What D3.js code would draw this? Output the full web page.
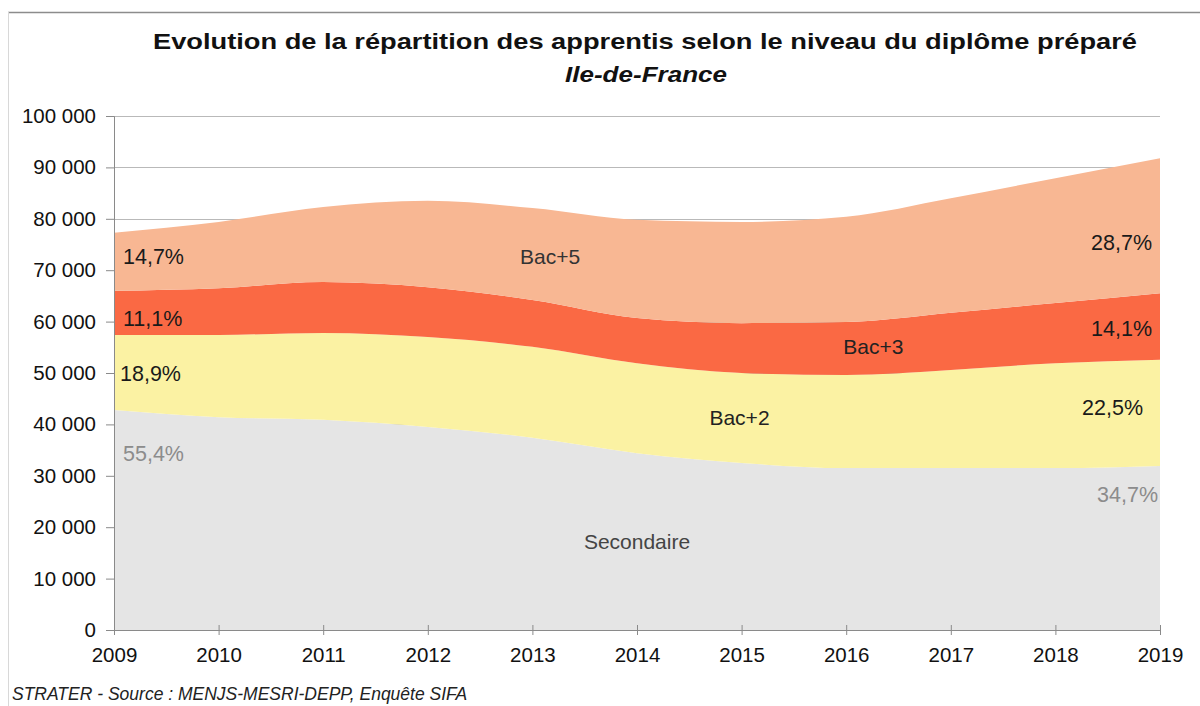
<!DOCTYPE html>
<html>
<head>
<meta charset="utf-8">
<script src="https://cdn.jsdelivr.net/npm/d3@7"></script>
<style>
  body { margin: 0; background: #fff; }
  svg { display: block; font-family: "Liberation Sans", Arial, sans-serif; }
</style>
</head>
<body>
<div id="chart"></div>
<script>
// years on the x axis
const years = [2009, 2010, 2011, 2012, 2013, 2014, 2015, 2016, 2017, 2018, 2019];

// number of apprentices by level
const secondaire = [42800, 41400, 40900, 39500, 37400, 34400, 32500, 31500, 31500, 31500, 31900];
const bac2 = [14600, 16000, 16900, 17500, 17700, 17500, 17500, 18100, 19100, 20400, 20700];
const bac3 = [8600, 9100, 9900, 9700, 9100, 8800, 9700, 10300, 11100, 11700, 12900];
const bac5 = [11300, 12900, 14600, 16800, 17900, 19100, 19700, 20500, 22300, 24300, 26300];

const seriesNames = ["Secondaire", "Bac+2", "Bac+3", "Bac+5"];
const pctStart = ["55,4%", "18,9%", "11,1%", "14,7%"];
const pctEnd = ["34,7%", "22,5%", "14,1%", "28,7%"];
const yTicks = [0, 10000, 20000, 30000, 40000, 50000, 60000, 70000, 80000, 90000, 100000];

const colors = ["#e5e5e5", "#fbf2a3", "#fa6944", "#f8b793"];

// build rows for the stack
const rows = years.map((y, i) => ({
    year: y,
    "Secondaire": secondaire[i],
    "Bac+2": bac2[i],
    "Bac+3": bac3[i],
    "Bac+5": bac5[i]
}));

const width = 1200, height = 706;
const margin = { top: 116, right: 40, bottom: 76, left: 114 };
const innerW = width - margin.left - margin.right;
const innerH = height - margin.top - margin.bottom;

const svg = d3.select("#chart").append("svg")
    .attr("width", width)
    .attr("height", height);

// frame lines (top and left)
svg.append("line").attr("x1", 8).attr("x2", 1200).attr("y1", 12.5).attr("y2", 12.5)
    .attr("stroke", "#8c8c8c").attr("stroke-width", 1.5);
svg.append("line").attr("x1", 8.5).attr("x2", 8.5).attr("y1", 12).attr("y2", 706)
    .attr("stroke", "#d8d8d8").attr("stroke-width", 1);

// title (the source picture is a bit stretched horizontally)
svg.append("text")
    .attr("x", 645).attr("y", 49)
    .attr("text-anchor", "middle")
    .attr("font-size", "22px").attr("font-weight", "bold").attr("fill", "#111")
    .attr("textLength", 984).attr("lengthAdjust", "spacingAndGlyphs")
    .text("Evolution de la répartition des apprentis selon le niveau du diplôme préparé");
svg.append("text")
    .attr("x", 646).attr("y", 82)
    .attr("text-anchor", "middle")
    .attr("font-size", "22px").attr("font-weight", "bold").attr("font-style", "italic").attr("fill", "#111")
    .attr("textLength", 162).attr("lengthAdjust", "spacingAndGlyphs")
    .text("Ile-de-France");

const g = svg.append("g").attr("transform", `translate(${margin.left},${margin.top})`);

const x = d3.scaleLinear().domain([2009, 2019]).range([0, innerW]);
const y = d3.scaleLinear().domain([0, 100000]).range([innerH, 0]);

// gridlines (behind the areas)
g.append("g").selectAll("line").data(yTicks.filter(d => d > 0)).join("line")
    .attr("x1", 0).attr("x2", innerW)
    .attr("y1", d => Math.round(y(d)) + 0.5).attr("y2", d => Math.round(y(d)) + 0.5)
    .attr("stroke", "#b9b9b9").attr("stroke-width", 1);

// stacked areas
const stack = d3.stack().keys(seriesNames);
const stacked = stack(rows);

const area = d3.area()
    .x(d => x(d.data.year))
    .y0(d => y(d[0]))
    .y1(d => y(d[1]))
    .curve(d3.curveMonotoneX);

g.selectAll(".layer").data(stacked).join("path")
    .attr("class", "layer")
    .attr("d", area)
    .attr("fill", (d, i) => colors[i]);

// y axis
const yAxis = g.append("g")
    .call(d3.axisLeft(y).tickValues(yTicks).tickSize(8).tickPadding(10)
        .tickFormat(d => d3.format(",")(d).replace(/,/g, " ")));
yAxis.select(".domain").attr("stroke", "#8a8a8a");
yAxis.selectAll(".tick line").attr("stroke", "#8a8a8a");
yAxis.selectAll(".tick text").attr("font-size", "20.5px").attr("fill", "#111")
    .attr("font-family", "Liberation Sans, Arial, sans-serif");

// x axis
const xAxis = g.append("g")
    .attr("transform", `translate(0,${innerH})`)
    .call(d3.axisBottom(x).tickValues(years).tickSize(5).tickPadding(12).tickFormat(d3.format("d")));
xAxis.select(".domain").attr("stroke", "#8a8a8a");
xAxis.selectAll(".tick line").attr("stroke", "#8a8a8a").attr("y1", -5);
xAxis.selectAll(".tick text").attr("font-size", "20.5px").attr("fill", "#111")
    .attr("font-family", "Liberation Sans, Arial, sans-serif");

// series name labels, placed at a year inside their band
const nameAt = [2014.0, 2014.98, 2016.26, 2013.17];
const nameColor = ["#444", "#222", "#222", "#333"];
stacked.forEach((s, i) => {
    const yr = nameAt[i];
    const lo = d3.interpolate(s[Math.floor(yr - 2009)][0], s[Math.ceil(yr - 2009)][0])(yr % 1);
    const hi = d3.interpolate(s[Math.floor(yr - 2009)][1], s[Math.ceil(yr - 2009)][1])(yr % 1);
    g.append("text")
        .attr("x", x(yr)).attr("y", y((lo + hi) / 2))
        .attr("dy", "0.35em").attr("text-anchor", "middle")
        .attr("font-size", "21px").attr("fill", nameColor[i])
        .text(seriesNames[i]);
});

// percentage labels at both ends (value positions in data units)
const startAt = [34400, 50000, 60600, 72600];
const endAt = [26300, 43200, 58600, 75300];
const pctColor = ["#8c8c8c", "#1a1a1a", "#1a1a1a", "#1a1a1a"];
pctStart.forEach((t, i) => {
    g.append("text")
        .attr("x", x(2009) + (i === 1 ? 6 : 9)).attr("y", y(startAt[i]))
        .attr("dy", "0.35em").attr("text-anchor", "start")
        .attr("font-size", "21.5px").attr("fill", pctColor[i])
        .text(t);
});
pctEnd.forEach((t, i) => {
    g.append("text")
        .attr("x", x(2019) - (i === 0 ? 2 : i === 1 ? 17 : 8)).attr("y", y(endAt[i]))
        .attr("dy", "0.35em").attr("text-anchor", "end")
        .attr("font-size", "21.5px").attr("fill", pctColor[i])
        .text(t);
});

// source
svg.append("text")
    .attr("x", 12).attr("y", 700)
    .attr("font-size", "17.5px").attr("font-style", "italic").attr("fill", "#222")
    .text("STRATER - Source : MENJS-MESRI-DEPP, Enquête SIFA");
</script>
</body>
</html>
